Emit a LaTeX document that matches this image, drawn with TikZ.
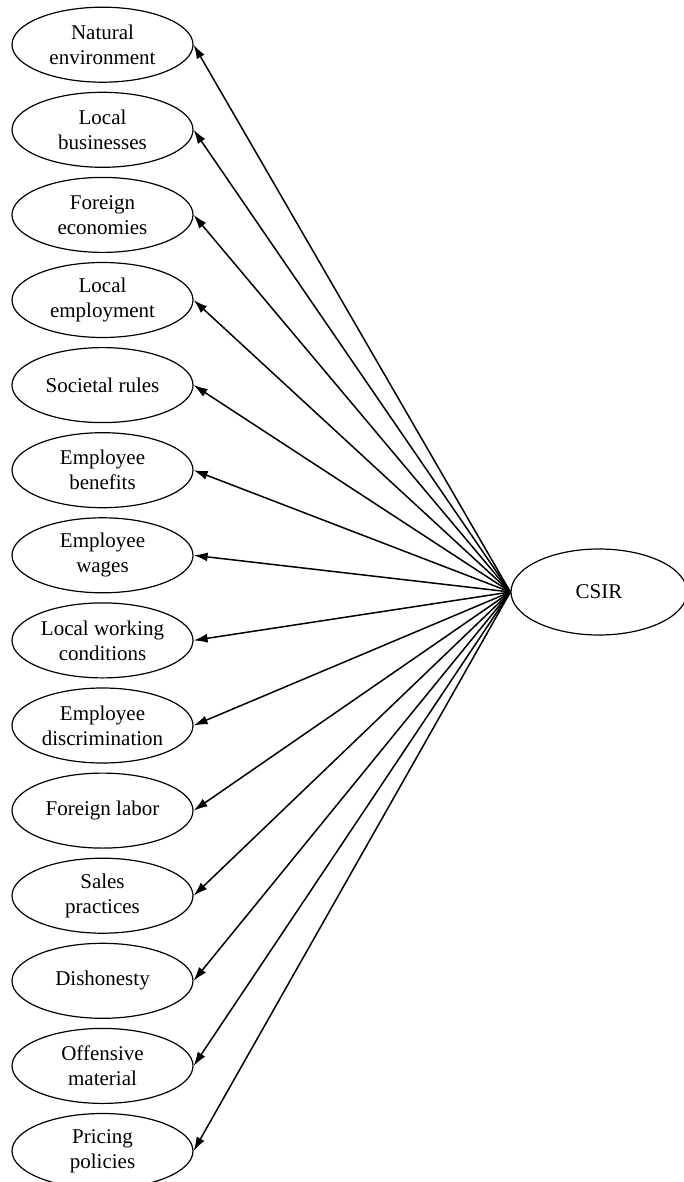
\documentclass[tikz,border=0pt]{standalone}
\usepackage{fontspec}
\setmainfont{Liberation Serif}
\usetikzlibrary{shapes.geometric,arrows.meta}
\begin{document}
\begin{tikzpicture}[x=1pt,y=-1pt,
  item/.style={draw,ellipse,line width=1.2pt,minimum width=181pt,minimum height=75pt,inner sep=0pt,align=center,font=\fontsize{21}{25}\selectfont},
  core/.style={item,minimum width=176pt,minimum height=86pt},
  arr/.style={line width=1.5pt,-{Latex[length=14pt,width=9pt]}}]
\useasboundingbox (0,0) rectangle (683,1182);
\node[core] (csir) at (599,592) {CSIR};
\foreach \i/\t in {0/{Natural\\environment},1/{Local\\businesses},2/{Foreign\\economies},3/{Local\\employment},4/{Societal rules},5/{Employee\\benefits},6/{Employee\\wages},7/{Local working\\conditions},8/{Employee\\discrimination},9/{Foreign labor},10/{Sales\\practices},11/{Dishonesty},12/{Offensive\\material},13/{Pricing\\policies}}{
  \node[item] (n\i) at (102.5,44.7+85.1*\i) {\t};
  \draw[arr] (csir.west) -- (n\i.east);
}
\end{tikzpicture}
\end{document}
